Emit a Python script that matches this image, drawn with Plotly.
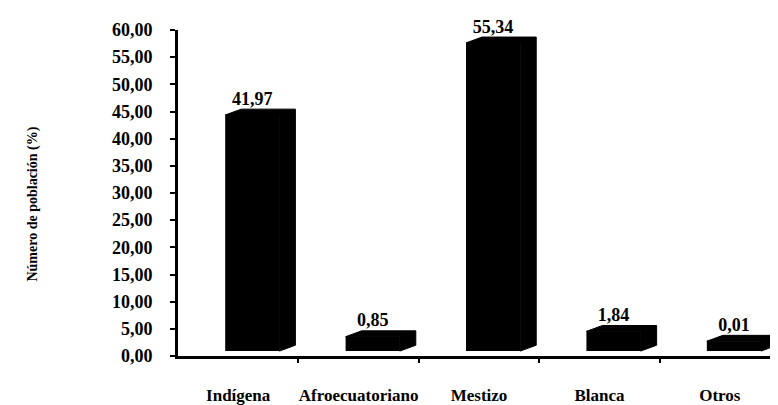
import plotly.graph_objects as go

categories = ["Indígena", "Afroecuatoriano", "Mestizo", "Blanca", "Otros"]
values = [41.97, 0.85, 55.34, 1.84, 0.01]
y_ticks = [0, 5, 10, 15, 20, 25, 30, 35, 40, 45, 50, 55, 60]
y_title = "Número de población (%)"

FONT = "Liberation Serif"
BAR_W = 0.45       # front face width (category units)
BAR_OFF = -0.108   # front face offset from category centre
DX = 0.133         # 3D depth, x units
DY = 1.09          # 3D depth, value units
FLOOR = -1.82      # 3D floor thickness (value units)

xs = list(range(len(categories)))

# depth faces (top + side) built from the values
px, py = [], []
for i, v in zip(xs, values):
    x0 = i + BAR_OFF
    x1 = x0 + BAR_W
    px += [x0, x0 + DX, x1 + DX, x1 + DX, x1, x1, x0, None]
    py += [v, v + DY, v + DY, FLOOR + DY, FLOOR, v, v, None]

fig = go.Figure()
fig.add_trace(go.Bar(
    x=xs, y=[v - FLOOR for v in values], base=FLOOR,
    width=BAR_W, offset=BAR_OFF,
    marker=dict(color="black", line=dict(width=0)),
    showlegend=False, hoverinfo="skip"))
fig.add_trace(go.Scatter(
    x=px, y=py, fill="toself", fillcolor="black", mode="lines",
    line=dict(color="black", width=1),
    showlegend=False, hoverinfo="skip"))
fig.add_trace(go.Scatter(
    x=[i + BAR_OFF + BAR_W / 2 for i in xs],
    y=[v + DY for v in values],
    text=[f"{v:.2f}".replace(".", ",") for v in values],
    mode="text", textposition="top center", cliponaxis=False,
    textfont=dict(family=FONT, size=18, color="black", weight=700),
    showlegend=False, hoverinfo="skip"))
fig.add_trace(go.Scatter(x=[None], y=[None], xaxis="x", yaxis="y2",
                         showlegend=False, hoverinfo="skip"))

xr = [-0.5, 4.483]
fig.update_layout(
    width=770, height=397,
    margin=dict(l=170, r=0, t=22, b=43),
    paper_bgcolor="white", plot_bgcolor="white",
    separators=",.",
    font=dict(family=FONT, color="black"),
    xaxis=dict(range=xr, tickvals=xs, ticktext=categories, ticks="",
               showline=True, linecolor="black", linewidth=2.5,
               showgrid=False, zeroline=False, ticklabelstandoff=22,
               tickfont=dict(family=FONT, size=17, color="black", weight=700),
               minor=dict(tickvals=[0.5, 1.5, 2.5, 3.5], ticks="outside",
                          ticklen=4, tickwidth=1.5, tickcolor="black",
                          showgrid=False)),
    yaxis=dict(range=[-2.73, 57.74], visible=False, showgrid=False,
               zeroline=False),
    yaxis2=dict(range=[0, 60], overlaying="y", anchor="x", side="left",
                tickvals=y_ticks, tickformat=".2f",
                ticks="outside", ticklen=5, tickwidth=1.5, tickcolor="black",
                showline=True, linecolor="black", linewidth=3,
                showgrid=False, zeroline=False, ticklabelstandoff=14,
                tickfont=dict(family=FONT, size=18, color="black", weight=700)),
    annotations=[dict(text=y_title, textangle=-90, xref="paper", yref="paper",
                      x=-0.242, y=0.467, xanchor="center", yanchor="middle",
                      showarrow=False,
                      font=dict(family=FONT, size=14, color="black", weight=700))],
)

fig.write_html("out.html")
